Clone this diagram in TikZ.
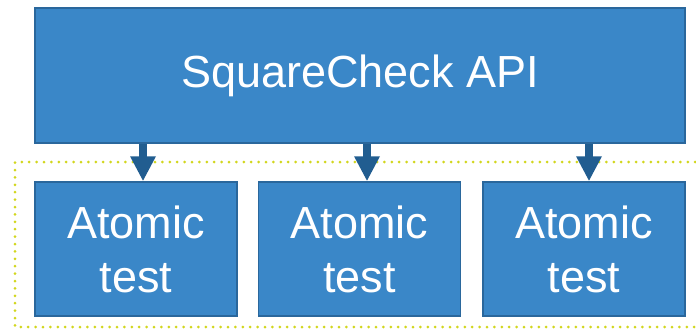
\documentclass[tikz,border=0pt]{standalone}
\usepackage{fontspec}
\setmainfont{Liberation Sans}
\usepackage{xcolor}
\usepackage{tikz}
\usetikzlibrary{calc,arrows.meta}
\definecolor{boxfill}{HTML}{3A87C8}
\definecolor{boxedge}{HTML}{2A679C}
\definecolor{arrowblue}{HTML}{215D90}
\definecolor{dotline}{HTML}{D2D61E}
\tikzset{
  blk/.style={draw=boxedge, fill=boxfill, line width=1.5pt, text=white,
    font=\fontsize{45}{54}\selectfont, align=center, inner sep=0pt},
  apibox/.style={blk, minimum width=650pt, minimum height=135pt},
  testbox/.style={blk, minimum width=202pt, minimum height=134pt},
  arr/.style={draw=arrowblue, line width=8pt, -{Triangle[length=25pt,width=24pt]}},
  grp/.style={draw=dotline, line width=3pt, line cap=round, dash pattern=on 0pt off 7.4pt},
}
\begin{document}
\begin{tikzpicture}[x=1pt,y=-1pt]
  \useasboundingbox (0,0) rectangle (696,330);

  \draw[grp] (710,162) -- (15,162) -- (15,327) -- (710,327);

  \node[apibox] (api) at (360,75.5) {SquareCheck API};
  \node[testbox] (t1) at (136,249) {Atomic\\test};
  \node[testbox] (t2) at (359.5,249) {Atomic\\test};
  \node[testbox] (t3) at (584,249) {Atomic\\test};

  \foreach \n/\dx in {t1/7,t2/7.5,t3/5}
    \draw[arr] ($(\n.north |- api.south)+(\dx,0)$) -- ($(\n.north)+(\dx,0)$);
\end{tikzpicture}
\end{document}
